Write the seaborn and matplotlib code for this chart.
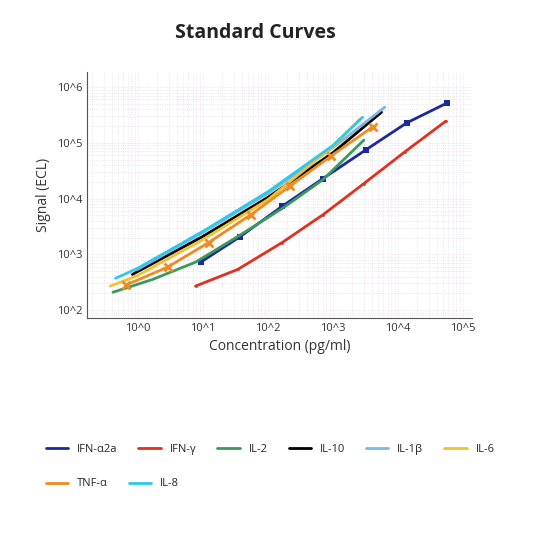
import numpy as np
import pandas as pd
import seaborn as sns
import matplotlib.pyplot as plt
from matplotlib.lines import Line2D
from matplotlib.ticker import FixedLocator, FixedFormatter, LogLocator, NullFormatter

# log10 values
ifna_x = [0.97, 1.58, 2.22, 2.85, 3.51, 4.14, 4.75]
ifna_y = [2.86, 3.32, 3.86, 4.36, 4.875, 5.36, 5.71]
ifng_x = [0.89, 1.54, 2.22, 2.85, 3.48, 4.11, 4.74]
ifng_y = [2.43, 2.73, 3.21, 3.71, 4.27, 4.84, 5.39]
il2_x = [-0.38, 0.23, 0.89, 1.54, 2.22, 2.85, 3.48]
il2_y = [2.32, 2.55, 2.86, 3.32, 3.82, 4.34, 5.05]
il10_x = [-0.08, 1.0, 2.0, 3.0, 3.75]
il10_y = [2.64, 3.32, 4.02, 4.82, 5.55]
il1b_x = [0.0, 1.0, 2.0, 3.0, 3.8]
il1b_y = [2.73, 3.39, 4.09, 4.91, 5.64]
il6_x = [-0.42, 0.0, 1.0, 2.0, 3.0, 3.42]
il6_y = [2.43, 2.62, 3.26, 3.98, 4.93, 5.43]
tnf_x = [-0.18, 0.46, 1.09, 1.74, 2.35, 2.98, 3.62]
tnf_y = [2.45, 2.77, 3.21, 3.71, 4.23, 4.77, 5.29]
il8_x = [-0.34, 0.0, 1.0, 2.0, 3.0, 3.46]
il8_y = [2.57, 2.75, 3.41, 4.12, 4.95, 5.46]

series = [
    ("IFN-α2a", ifna_x, ifna_y, "#1a2a9c", "s", 4),
    ("IFN-γ", ifng_x, ifng_y, "#e0301e", "o", 2),
    ("IL-2", il2_x, il2_y, "#3a9a5a", None, 0),
    ("IL-10", il10_x, il10_y, "#000000", None, 0),
    ("IL-1β", il1b_x, il1b_y, "#7ab8e8", None, 0),
    ("IL-6", il6_x, il6_y, "#f2c12e", None, 0),
    ("TNF-α", tnf_x, tnf_y, "#f08a24", "x", 6),
    ("IL-8", il8_x, il8_y, "#2ec8ea", None, 0),
]

sns.set_style("white")
plt.rcParams['font.family'] = ['Open Sans', 'DejaVu Sans']

fig = plt.figure(figsize=(5.5, 5.5), dpi=100)
ax = fig.add_axes([0.158, 0.422, 0.70, 0.447])

for name, xs, ys, color, marker, ms in series:
    df = pd.DataFrame({"x": 10 ** np.array(xs), "y": 10 ** np.array(ys)})
    sns.lineplot(data=df, x="x", y="y", ax=ax, color=color, lw=2, label=name,
                 marker=marker, markersize=ms, markeredgewidth=2 if marker == "x" else 0,
                 markeredgecolor=color)

ax.set_xscale("log")
ax.set_yscale("log")
ax.set_xlim(10 ** -0.78, 10 ** 5.14)
ax.set_ylim(10 ** 1.86, 10 ** 6.27)

xt = [10.0 ** k for k in range(0, 6)]
yt = [10.0 ** k for k in range(2, 7)]
ax.xaxis.set_major_locator(FixedLocator(xt))
ax.xaxis.set_major_formatter(FixedFormatter([f"10^{k}" for k in range(0, 6)]))
ax.yaxis.set_major_locator(FixedLocator(yt))
ax.yaxis.set_major_formatter(FixedFormatter([f"10^{k}" for k in range(2, 7)]))
ax.xaxis.set_minor_locator(LogLocator(base=10, subs=np.arange(2, 10)))
ax.yaxis.set_minor_locator(LogLocator(base=10, subs=np.arange(2, 10)))
ax.xaxis.set_minor_formatter(NullFormatter())
ax.yaxis.set_minor_formatter(NullFormatter())
ax.grid(which="both", color="#e6dde6", lw=0.6, ls=":")
ax.tick_params(which="major", labelsize=8, colors="#333333", length=3, direction="in")
ax.tick_params(which="minor", length=2, direction="in")
for s in ["top", "right"]:
    ax.spines[s].set_visible(False)
for s in ["left", "bottom"]:
    ax.spines[s].set_color("#555555")

ax.set_xlabel("Concentration (pg/ml)", fontsize=10, color="#333333")
ax.set_ylabel("Signal (ECL)", fontsize=10, color="#333333")
fig.text(0.465, 0.93, "Standard Curves", ha="center", fontsize=14, fontweight="bold", color="#222222")

labels = [s[0] for s in series]
ax.get_legend().remove()
h = [Line2D([], [], color=c, lw=2) for _, _, _, c, _, _ in series]
fig.legend(h[:6], labels[:6], loc="center left", bbox_to_anchor=(0.065, 0.183), ncol=6,
           frameon=False, fontsize=8, handlelength=2.0, columnspacing=1.9)
fig.legend(h[6:], labels[6:], loc="center left", bbox_to_anchor=(0.065, 0.12), ncol=2,
           frameon=False, fontsize=8, handlelength=2.0, columnspacing=1.9)

fig.savefig("out.png", dpi=100, facecolor="white")
